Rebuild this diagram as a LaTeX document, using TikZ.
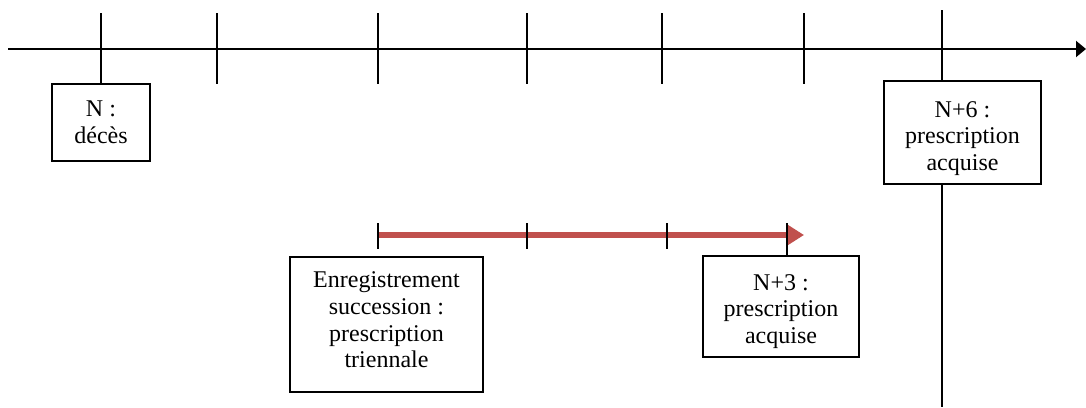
\documentclass[tikz,border=0pt]{standalone}
\usepackage{fontspec}
\setmainfont{Liberation Serif}
\usetikzlibrary{arrows.meta,calc}
\definecolor{axisred}{RGB}{192,80,77}
\newcommand{\boxtext}[2]{\raisebox{#1}[\height][\depth]{\begin{tabular}{@{}c@{}}#2\end{tabular}}}
\begin{document}
\begin{tikzpicture}[x=0.5pt,y=-0.5pt,
  axisline/.style={line width=1pt,black},
  tickline/.style={line width=1pt,black},
  smalltick/.style={line width=0.75pt,black},
  redarrow/.style={line width=2.6pt,axisred,-{Triangle[length=8pt,width=9.5pt]}},
  box/.style={draw,line width=1pt,inner sep=0pt,
    font=\fontsize{12pt}{13.3pt}\selectfont}]
\useasboundingbox (0,0) rectangle (1086,407);

% boxes
\node[box,minimum width=49pt,minimum height=38.5pt] (nbox) at (101,122.5) {\boxtext{-1pt}{N :\\décès}};
\node[box,minimum width=78.5pt,minimum height=51.5pt] (n6box) at (962.5,132.5) {\boxtext{-3pt}{N+6 :\\prescription\\acquise}};
\node[box,minimum width=96.5pt,minimum height=67.5pt] (enrbox) at (386.5,324.5) {\boxtext{1pt}{Enregistrement\\succession :\\prescription\\triennale}};
\node[box,minimum width=78pt,minimum height=50.5pt] (n3box) at (781,306.5) {\boxtext{-2.5pt}{N+3 :\\prescription\\acquise}};

% main axis
\coordinate (a0) at (8,49);
\coordinate (a1) at (1086,49);
\draw[axisline,-{Triangle[length=5pt,width=8pt]}] (a0) -- (a1);

% ticks on main axis
\coordinate (t1) at (101,13);
\draw[tickline] (t1) -- (nbox.north);
\foreach \x [count=\i] in {217,378,527,662,804}{
  \coordinate (mt\i a) at (\x,13);
  \coordinate (mt\i b) at (\x,84);
  \draw[tickline] (mt\i a) -- (mt\i b);
}
\coordinate (t7a) at (942,10);
\coordinate (t7b) at (942,407);
\draw[tickline] (t7a) -- (t7a |- n6box.north);
\draw[tickline] (t7a |- n6box.south) -- (t7b);

% red arrow
\coordinate (r0) at (378,235);
\coordinate (r4) at (804,235);
\draw[redarrow] (r0) -- (r4);
\foreach \x [count=\i] in {378,527,667}{
  \coordinate (rt\i a) at (\x,223);
  \coordinate (rt\i b) at (\x,249);
  \draw[smalltick] (rt\i a) -- (rt\i b);
}
\coordinate (rt4) at (787,223);
\draw[smalltick] (rt4) -- (rt4 |- n3box.north);
\end{tikzpicture}
\end{document}
